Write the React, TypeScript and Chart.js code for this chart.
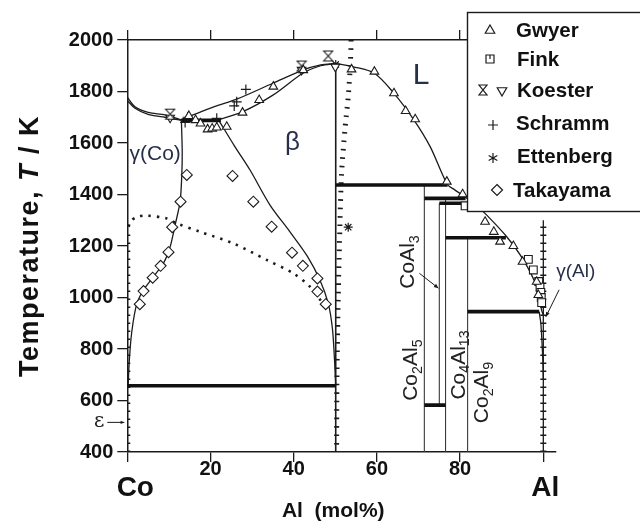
import React, { useEffect, useRef } from 'react';
import { Chart, registerables } from 'chart.js';

Chart.register(...registerables);

type Pt = [number, number];

const FONT = '"Liberation Sans", Arial, Helvetica, sans-serif';
const INK = '#1b1b1b';

// ---------- axes ----------
const xTickValues = [0, 20, 40, 60, 80, 100];
const yTickValues = [400, 600, 800, 1000, 1200, 1400, 1600, 1800, 2000];
const xEndLabels = ['Co', 'Al'];

// ---------- phase boundaries (x = Al mol%, y = T/K) ----------
const coLiquidus: Pt[] = [[0, 1778], [1.85, 1741], [5, 1719], [9.1, 1709], [12.9, 1690]];
const coSolidus: Pt[] = [[0, 1765], [1.85, 1735], [5, 1711], [9.1, 1700], [12.9, 1688]];
const betaLiquidusCo: Pt[] = [[12.9, 1690], [15.5, 1707], [21.1, 1742], [26.3, 1770], [35, 1832], [42.2, 1883], [46.5, 1903], [50.1, 1909]];
const betaSolidusCo: Pt[] = [[21.9, 1690], [27.8, 1722], [35, 1786], [42.2, 1871], [46.5, 1900], [50.1, 1909]];
const gammaCoSolvus: Pt[] = [[13.0, 1688], [13.2, 1570], [13.1, 1476], [12.7, 1372], [11.5, 1282], [10.3, 1197], [8.7, 1133], [6.3, 1081], [3.9, 1029], [2.3, 977], [1.1, 870], [0.5, 760], [0.2, 657]];
const betaBoundaryCo: Pt[] = [[22, 1688], [25.7, 1590], [29.5, 1495], [34.3, 1359], [39.1, 1255], [43.3, 1160], [46.3, 1068], [48.3, 977], [49.3, 880], [49.8, 760], [50.1, 657]];
const alLiquidus: Pt[] = [[50.1, 1909], [54.3, 1896], [59.4, 1871], [64.1, 1793], [68.8, 1692], [72.8, 1586], [76.9, 1440], [78.7, 1418], [80.8, 1395], [83.5, 1363], [86.4, 1320], [91.2, 1236], [95.2, 1146], [98.4, 1042], [99.6, 950], [100, 933]];
const alSolvus: Pt[] = [[99.0, 945], [99.4, 900], [99.7, 820], [99.9, 750], [100, 680]];
const magneticLine: Pt[] = [[0.3, 1275], [0.9, 1298], [2.5, 1314], [4.7, 1318], [9.5, 1307], [11.9, 1288], [17.5, 1255], [25.5, 1210], [33.5, 1146], [39.9, 1094], [43.9, 1042], [46.7, 984]];
const betaBoundaryAl: Pt[] = [[53.8, 2000], [53.6, 1900], [53.1, 1780], [52.3, 1650], [51.5, 1480], [51.1, 1275], [50.7, 1000], [50.4, 700], [50.3, 400]];
const coHatch: Pt[] = [[0, 400], [0, 1262]];
const alHatch: Pt[] = [[100, 400], [100, 1300]];
const coAlLine: Pt[] = [[50.1, 400], [50.1, 1909]];
const alEdgeLine: Pt[] = [[100, 400], [100, 1300]];

// invariant reactions: [x start, x end, T]
const invariantLines: [number, number, number][] = [
  [13, 22.5, 1688],
  [0, 50.1, 657],
  [50.1, 77, 1437],
  [71.4, 81.3, 1385],
  [75, 82, 1366],
  [76.5, 91, 1232],
  [81.8, 99, 945],
  [71.4, 76.5, 582],
];
// compounds: [x, T low, T high]
const compoundLines: [number, number, number][] = [
  [71.4, 400, 1437],
  [75, 582, 1366],
  [76.5, 400, 1385],
  [81.8, 400, 1232],
];

// ---------- experimental data ----------
const gwyer: Pt[] = [[14.8, 1705], [16.4, 1689], [17.6, 1676], [19.3, 1653], [20.4, 1656], [21.5, 1660], [23.9, 1663], [27.7, 1718], [31.7, 1767], [35.1, 1819], [42.3, 1883], [53.9, 1886], [59.4, 1877], [64.1, 1793], [66.9, 1724], [69.2, 1692], [76.8, 1450], [80.6, 1401], [86.0, 1294], [88.1, 1255], [89.6, 1217], [92.8, 1200], [95.0, 1139], [98.4, 1061], [98.8, 1010]];
const fink: Pt[] = [[81.2, 1356], [96.4, 1148], [97.6, 1107], [98.9, 1062], [99.2, 1040], [99.4, 1020], [99.5, 1000], [99.6, 980]];
const koesterHourglass: Pt[] = [[10.3, 1712], [41.9, 1899], [48.3, 1938]];
const koesterDown: Pt[] = [[10.3, 1698], [41.9, 1884], [50.0, 1896]];
const schramm: Pt[] = [[13.9, 1680], [14.5, 1700], [21.5, 1696], [25.7, 1744], [26.3, 1760], [28.5, 1808]];
const ettenberg: Pt[] = [[53.1, 1273], [50.1, 1905]];
const takayama: Pt[] = [[14.3, 1476], [12.8, 1372], [10.8, 1273], [9.9, 1176], [8.0, 1123], [6.1, 1077], [3.9, 1025], [3.0, 974], [25.3, 1472], [30.3, 1372], [34.7, 1275], [39.6, 1174], [42.2, 1123], [45.7, 1074], [45.7, 1023], [47.7, 974]];

const legendNames = ['Gwyer', 'Fink', 'Koester', 'Schramm', 'Ettenberg', 'Takayama'];

// ---------- annotation layout ----------
const phaseLabels = [
  { text: 'L', x: 70.6, y: 1860, size: 30 },
  { text: 'β', x: 39.7, y: 1600, size: 26 },
  { text: 'γ(Co)', x: 6.7, y: 1557, size: 21 },
];
const compoundLabels = [
  { formula: 'CoAl3', x: 67.5, y: 1138 },
  { formula: 'Co2Al5', x: 68.2, y: 718 },
  { formula: 'Co4Al13', x: 79.7, y: 738 },
  { formula: 'Co2Al9', x: 85.4, y: 631 },
];
const legendRows = [30, 59, 90, 123, 156, 190];
const legendTextX = [516, 517, 517, 516, 517, 513];

const toXY = (pts: Pt[]) => pts.map(([x, y]) => ({ x, y }));

function lineDs(pts: Pt[], extra: any = {}) {
  return {
    data: toXY(pts),
    showLine: true,
    pointRadius: 0,
    pointHitRadius: 0,
    borderColor: INK,
    borderWidth: 1.3,
    tension: 0.3,
    fill: false,
    order: 5,
    xAxisID: 'x',
    yAxisID: 'y',
    ...extra,
  };
}

function markerDs(pts: Pt[], extra: any = {}) {
  return {
    data: toXY(pts),
    showLine: false,
    pointRadius: 5,
    pointBorderWidth: 1.1,
    pointBorderColor: INK,
    pointBackgroundColor: '#fff',
    order: 0,
    xAxisID: 'x',
    yAxisID: 'y',
    ...extra,
  };
}

function drawSymbol(ctx: CanvasRenderingContext2D, kind: string, x: number, y: number, r: number) {
  ctx.save();
  ctx.lineWidth = 1.2;
  ctx.strokeStyle = INK;
  ctx.fillStyle = '#fff';
  ctx.beginPath();
  switch (kind) {
    case 'triangle':
      ctx.moveTo(x, y - r);
      ctx.lineTo(x + r * 0.95, y + r * 0.65);
      ctx.lineTo(x - r * 0.95, y + r * 0.65);
      ctx.closePath();
      ctx.fill();
      ctx.stroke();
      break;
    case 'triangleDown':
      ctx.moveTo(x, y + r);
      ctx.lineTo(x + r * 0.95, y - r * 0.65);
      ctx.lineTo(x - r * 0.95, y - r * 0.65);
      ctx.closePath();
      ctx.fill();
      ctx.stroke();
      break;
    case 'square':
      ctx.rect(x - r * 0.8, y - r * 0.8, r * 1.6, r * 1.6);
      ctx.fill();
      ctx.stroke();
      ctx.beginPath();
      ctx.moveTo(x, y - r * 0.8);
      ctx.lineTo(x, y);
      ctx.stroke();
      break;
    case 'hourglass':
      ctx.moveTo(x - r * 0.8, y - r);
      ctx.lineTo(x + r * 0.8, y - r);
      ctx.lineTo(x - r * 0.8, y + r);
      ctx.lineTo(x + r * 0.8, y + r);
      ctx.closePath();
      ctx.stroke();
      break;
    case 'plus':
      ctx.moveTo(x - r, y);
      ctx.lineTo(x + r, y);
      ctx.moveTo(x, y - r);
      ctx.lineTo(x, y + r);
      ctx.stroke();
      break;
    case 'star':
      for (let i = 0; i < 3; i++) {
        const a = Math.PI / 2 + (i * Math.PI) / 3;
        ctx.moveTo(x - Math.cos(a) * r, y - Math.sin(a) * r);
        ctx.lineTo(x + Math.cos(a) * r, y + Math.sin(a) * r);
      }
      ctx.stroke();
      break;
    case 'diamond':
      ctx.moveTo(x, y - r);
      ctx.lineTo(x + r, y);
      ctx.lineTo(x, y + r);
      ctx.lineTo(x - r, y);
      ctx.closePath();
      ctx.fill();
      ctx.stroke();
      break;
  }
  ctx.restore();
}

function makeHourglass(): HTMLCanvasElement {
  const c = document.createElement('canvas');
  c.width = 12;
  c.height = 13;
  const g = c.getContext('2d')!;
  g.fillStyle = '#fff';
  g.beginPath();
  g.moveTo(1.5, 1.5);
  g.lineTo(10.5, 1.5);
  g.lineTo(1.5, 11.5);
  g.lineTo(10.5, 11.5);
  g.closePath();
  g.fill();
  g.strokeStyle = INK;
  g.lineWidth = 1.1;
  g.stroke();
  return c;
}

function drawArrow(ctx: CanvasRenderingContext2D, x1: number, y1: number, x2: number, y2: number, head = 5) {
  ctx.save();
  ctx.strokeStyle = INK;
  ctx.fillStyle = INK;
  ctx.lineWidth = 1;
  ctx.beginPath();
  ctx.moveTo(x1, y1);
  ctx.lineTo(x2, y2);
  ctx.stroke();
  const a = Math.atan2(y2 - y1, x2 - x1);
  ctx.beginPath();
  ctx.moveTo(x2, y2);
  ctx.lineTo(x2 - head * Math.cos(a - 0.4), y2 - head * Math.sin(a - 0.4));
  ctx.lineTo(x2 - head * Math.cos(a + 0.4), y2 - head * Math.sin(a + 0.4));
  ctx.closePath();
  ctx.fill();
  ctx.restore();
}

function drawFormula(ctx: CanvasRenderingContext2D, formula: string, cx: number, cy: number, size: number) {
  const parts = formula.match(/[A-Za-z]+|\d+/g) || [];
  const subSize = size * 0.68;
  const items = parts.map((p) => ({ t: p, sub: /\d/.test(p) }));
  let total = 0;
  const widths = items.map((it) => {
    ctx.font = `${it.sub ? subSize : size}px ${FONT}`;
    const w = ctx.measureText(it.t).width;
    total += w;
    return w;
  });
  ctx.save();
  ctx.translate(cx, cy);
  ctx.rotate(-Math.PI / 2);
  ctx.fillStyle = '#222';
  ctx.textBaseline = 'alphabetic';
  ctx.textAlign = 'left';
  let x = -total / 2;
  const base = size * 0.28;
  items.forEach((it, i) => {
    ctx.font = `${it.sub ? subSize : size}px ${FONT}`;
    ctx.fillText(it.t, x, it.sub ? base + size * 0.22 : base);
    x += widths[i];
  });
  ctx.restore();
}

const overlayPlugin = {
  id: 'overlay',
  afterDraw(chart: any) {
    const ctx: CanvasRenderingContext2D = chart.ctx;
    const xs = chart.scales.x;
    const ys = chart.scales.y;
    const px = (v: number) => xs.getPixelForValue(v);
    const py = (v: number) => ys.getPixelForValue(v);
    const area = chart.chartArea;

    // phase labels
    ctx.save();
    ctx.fillStyle = '#26304a';
    ctx.textAlign = 'center';
    ctx.textBaseline = 'middle';
    phaseLabels.forEach((l) => {
      ctx.font = `${l.size}px ${FONT}`;
      ctx.fillText(l.text, px(l.x), py(l.y));
    });
    ctx.restore();

    // compound labels (rotated)
    compoundLabels.forEach((c) => drawFormula(ctx, c.formula, px(c.x), py(c.y), 21));
    drawArrow(ctx, px(70.2), py(1094), px(74.8), py(1036), 5);

    // gamma(Al)
    ctx.save();
    ctx.fillStyle = '#26304a';
    ctx.font = `19px ${FONT}`;
    ctx.textAlign = 'left';
    ctx.textBaseline = 'middle';
    ctx.fillText('γ(Al)', px(103.1), py(1100));
    ctx.restore();
    drawArrow(ctx, px(103.8), py(1030), px(100.6), py(925), 5);

    // epsilon with arrow
    ctx.save();
    ctx.fillStyle = '#222';
    ctx.font = `20px "DejaVu Serif", serif`;
    ctx.textAlign = 'center';
    ctx.textBaseline = 'middle';
    const ey = py(515);
    ctx.fillText('ε', area.left - 28, ey - 1);
    ctx.restore();
    drawArrow(ctx, area.left - 20, ey, area.left - 3, ey, 4);

    // end labels Co / Al
    ctx.save();
    ctx.fillStyle = '#111';
    ctx.font = `bold 28px ${FONT}`;
    ctx.textAlign = 'center';
    ctx.textBaseline = 'middle';
    ctx.fillText(xEndLabels[0], px(0) + 8, area.bottom + 36);
    ctx.fillText(xEndLabels[1], px(100) + 2, area.bottom + 36);
    // x title
    ctx.font = `bold 21px ${FONT}`;
    ctx.fillText('Al  (mol%)', px(49.5), area.bottom + 59);
    ctx.restore();

    // y title
    ctx.save();
    ctx.translate(31, (area.top + area.bottom) / 2);
    ctx.rotate(-Math.PI / 2);
    ctx.fillStyle = '#111';
    ctx.textBaseline = 'middle';
    ctx.textAlign = 'left';
    (ctx as any).letterSpacing = '1.5px';
    const segs = [
      { t: 'Temperature, ', f: `bold 27px ${FONT}` },
      { t: 'T', f: `italic bold 27px ${FONT}` },
      { t: ' / K', f: `bold 27px ${FONT}` },
    ];
    let tw = 0;
    const sw = segs.map((s) => {
      ctx.font = s.f;
      const w = ctx.measureText(s.t).width;
      tw += w;
      return w;
    });
    let tx = -tw / 2;
    segs.forEach((s, i) => {
      ctx.font = s.f;
      ctx.fillText(s.t, tx, 0);
      tx += sw[i];
    });
    (ctx as any).letterSpacing = '0px';
    ctx.restore();

    // legend
    ctx.save();
    ctx.fillStyle = '#fff';
    ctx.fillRect(467, 12, 200, 200);
    ctx.strokeStyle = INK;
    ctx.lineWidth = 1.4;
    ctx.strokeRect(467.5, 12.5, 200, 199);
    ctx.fillStyle = '#111';
    ctx.font = `bold 20.5px ${FONT}`;
    ctx.textAlign = 'left';
    ctx.textBaseline = 'middle';
    legendNames.forEach((n, i) => ctx.fillText(n, legendTextX[i], legendRows[i] + 1));
    ctx.restore();
    drawSymbol(ctx, 'triangle', 490, legendRows[0], 5);
    drawSymbol(ctx, 'square', 490, legendRows[1], 5);
    drawSymbol(ctx, 'hourglass', 483, legendRows[2], 5);
    drawSymbol(ctx, 'triangleDown', 502, legendRows[2] + 1, 5);
    drawSymbol(ctx, 'plus', 493, legendRows[3] + 2, 5);
    drawSymbol(ctx, 'star', 493, legendRows[4] + 2, 5);
    drawSymbol(ctx, 'diamond', 497, legendRows[5], 5.5);
  },
};

export default function App() {
  const ref = useRef<HTMLCanvasElement>(null);

  useEffect(() => {
    const canvas = ref.current;
    if (!canvas) return;
    const hourglass = makeHourglass();

    const datasets: any[] = [
      markerDs(gwyer, { pointStyle: 'triangle', pointRadius: 5 }),
      markerDs(fink, { pointStyle: 'rect', pointRadius: 5.5 }),
      markerDs(koesterHourglass, { pointStyle: hourglass }),
      markerDs(koesterDown, { pointStyle: 'triangle', pointRotation: 180, pointRadius: 5 }),
      markerDs(schramm, { pointStyle: 'cross', pointRadius: 5, pointBorderWidth: 1.2 }),
      markerDs(ettenberg, { pointStyle: 'star', pointRadius: 4.5, pointBorderWidth: 1.2 }),
      markerDs(takayama, { pointStyle: 'rectRot', pointRadius: 5.5 }),
      lineDs(coLiquidus),
      lineDs(coSolidus),
      lineDs(betaLiquidusCo),
      lineDs(betaSolidusCo),
      lineDs(gammaCoSolvus, { tension: 0.25 }),
      lineDs(betaBoundaryCo),
      lineDs(alLiquidus),
      lineDs(alSolvus),
      lineDs(coAlLine, { tension: 0, borderWidth: 1.6 }),
      lineDs(alEdgeLine, { tension: 0, borderWidth: 1.3 }),
      lineDs(magneticLine, { borderWidth: 2.6, borderDash: [2.4, 6], borderCapStyle: 'butt' }),
      lineDs(betaBoundaryAl, { borderWidth: 5, borderDash: [1.6, 6.8], borderCapStyle: 'butt' }),
      lineDs(coHatch, { tension: 0, borderWidth: 6, borderDash: [1.5, 6.5], borderCapStyle: 'butt' }),
      lineDs(alHatch, { tension: 0, borderWidth: 6, borderDash: [1.5, 6.5], borderCapStyle: 'butt' }),
      ...compoundLines.map(([x, lo, hi]) =>
        lineDs([[x, lo], [x, hi]], { tension: 0, borderWidth: 1.1, borderColor: '#3a3a3a' })
      ),
      ...invariantLines.map(([a, b, t]) =>
        lineDs([[a, t], [b, t]], { tension: 0, borderWidth: 3.6, borderColor: '#111', borderCapStyle: 'butt', order: 3 })
      ),
    ];

    const gridOpts = {
      display: true,
      drawOnChartArea: false,
      drawTicks: true,
      tickLength: 10,
      color: INK,
      lineWidth: 1.3,
    };
    const borderOpts = { display: true, color: INK, width: 1.5 };

    const chart = new Chart(canvas, {
      type: 'scatter',
      data: { datasets },
      options: {
        animation: false,
        responsive: false,
        events: [],
        layout: { padding: { left: 0, right: 84.2, top: 0, bottom: 0 } },
        plugins: { legend: { display: false }, tooltip: { enabled: false } },
        scales: {
          x: {
            type: 'linear',
            position: 'bottom',
            min: 0,
            max: 103,
            afterBuildTicks: (s: any) => {
              s.ticks = xTickValues.map((v) => ({ value: v }));
            },
            afterFit: (s: any) => {
              s.height = 72;
            },
            grid: gridOpts,
            border: borderOpts,
            ticks: {
              autoSkip: false,
              maxRotation: 0,
              padding: -5,
              color: '#111',
              font: { family: FONT, size: 20, weight: 'bold' },
              callback: (v: any) => (v === 0 || v === 100 ? '' : String(v)),
            },
          },
          xTop: {
            type: 'linear',
            position: 'top',
            min: 0,
            max: 103,
            afterBuildTicks: (s: any) => {
              s.ticks = xTickValues.map((v) => ({ value: v }));
            },
            afterFit: (s: any) => {
              s.height = 40;
            },
            grid: gridOpts,
            border: borderOpts,
            ticks: { display: false },
          },
          y: {
            type: 'linear',
            position: 'left',
            min: 400,
            max: 2000,
            afterBuildTicks: (s: any) => {
              s.ticks = yTickValues.map((v) => ({ value: v }));
            },
            afterFit: (s: any) => {
              s.width = 127.3;
            },
            grid: gridOpts,
            border: borderOpts,
            ticks: {
              padding: 4,
              color: '#111',
              font: { family: FONT, size: 20, weight: 'bold' },
              callback: (v: any) => String(v),
            },
          },
        },
      } as any,
      plugins: [overlayPlugin],
    });

    return () => chart.destroy();
  }, []);

  return (
    <div style={{ position: 'absolute', left: 0, top: 0, width: 640, height: 524, background: '#fff' }}>
      <canvas ref={ref} width={640} height={524} style={{ display: 'block', width: 640, height: 524 }} />
    </div>
  );
}
